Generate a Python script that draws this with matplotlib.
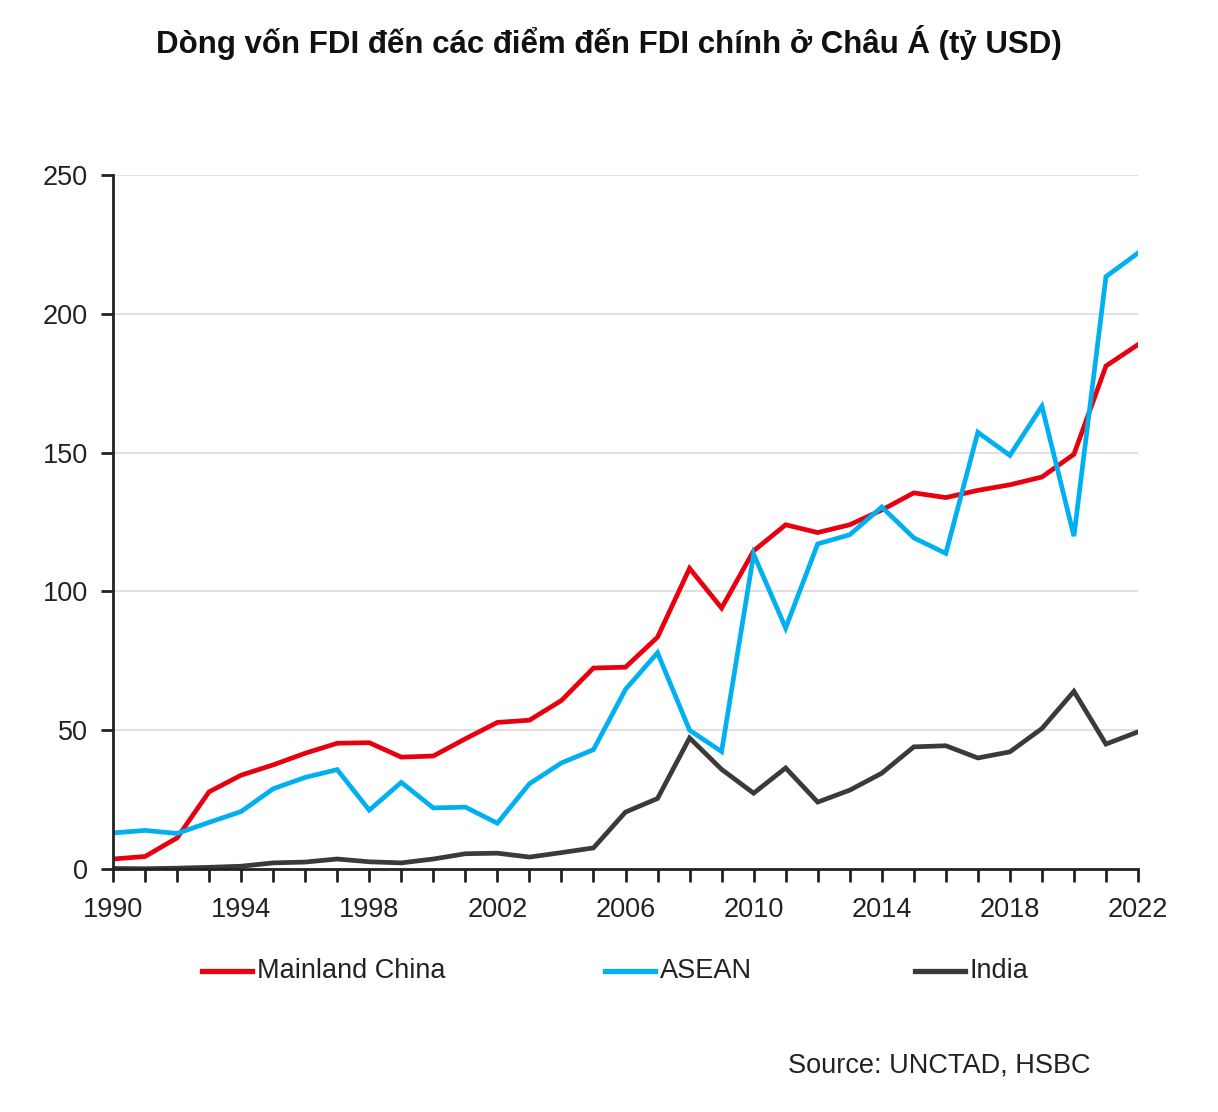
import matplotlib
matplotlib.use("Agg")
import matplotlib.pyplot as plt
from matplotlib.lines import Line2D

years = list(range(1990, 2023))
china = [3.6, 4.5, 11.2, 27.8, 33.8, 37.5, 41.7, 45.3, 45.5, 40.3, 40.7, 46.9, 52.8,
         53.6, 60.7, 72.4, 72.7, 83.5, 108.3, 94.0, 114.6, 124.0, 121.2, 124.0, 129.3,
         135.5, 133.8, 136.4, 138.4, 141.2, 149.4, 181.2, 188.9]
asean = [13.0, 13.9, 12.8, 16.8, 20.7, 28.9, 33.0, 35.8, 21.2, 31.2, 22.0, 22.3, 16.5,
         30.7, 38.2, 43.0, 64.7, 77.9, 50.0, 42.3, 113.4, 86.8, 117.1, 120.4, 130.4,
         119.3, 113.7, 157.3, 149.0, 166.7, 119.9, 213.4, 221.9]
india = [0.2, 0.1, 0.3, 0.6, 1.0, 2.2, 2.5, 3.6, 2.6, 2.2, 3.6, 5.5, 5.7,
         4.3, 5.9, 7.6, 20.5, 25.4, 47.2, 35.9, 27.3, 36.4, 24.1, 28.4, 34.5,
         44.0, 44.4, 40.0, 42.2, 50.6, 64.0, 45.0, 49.4]
series_names = ["Mainland China", "ASEAN", "India"]
colors = ["#E8000F", "#00B0F0", "#3A3A3A"]
yticks = [0, 50, 100, 150, 200, 250]
xtick_labels = [1990, 1994, 1998, 2002, 2006, 2010, 2014, 2018, 2022]

FONT = ["Liberation Sans", "DejaVu Sans"]
plt.rcParams["font.family"] = FONT

W, H = 1218, 1112
fig = plt.figure(figsize=(W / 100, H / 100), dpi=100)
ax = fig.add_axes([113 / W, 1 - 869 / H, (1138 - 113) / W, (869 - 175) / H])

for vals, c in zip([china, asean, india], colors):
    ax.plot(years, vals, color=c, lw=3.4, solid_joinstyle="miter", zorder=3)

ax.set_xlim(1990, 2022)
ax.set_ylim(0, 250)
ax.set_yticks(yticks)
ax.set_yticklabels([str(v) for v in yticks])
ax.set_xticks(years)
ax.set_xticklabels([str(y) if y in xtick_labels else "" for y in years])
for v in yticks[1:]:
    ax.axhline(v, color="#DDDDDD", lw=1.3, zorder=1)

for s in ["top", "right"]:
    ax.spines[s].set_visible(False)
for s in ["left", "bottom"]:
    ax.spines[s].set_linewidth(2.0)
    ax.spines[s].set_color("#222222")
    ax.spines[s].set_zorder(4)

ax.tick_params(axis="both", direction="out", length=9, width=2.0, color="#222222",
               labelsize=19.5, labelcolor="#222222")
ax.tick_params(axis="x", pad=11)
ax.tick_params(axis="y", pad=9)

fig.text(609 / W, 1 - 42 / H, "Dòng vốn FDI đến các điểm đến FDI chính ở Châu Á (tỷ USD)",
         ha="center", va="center", fontsize=22.5, fontweight="bold", color="#111111")

# legend
leg_x = [202, 605, 915]
for name, c, x0 in zip(series_names, colors, leg_x):
    fig.add_artist(Line2D([x0 / W, (x0 + 50) / W], [1 - 971 / H, 1 - 971 / H],
                          color=c, lw=3.8, transform=fig.transFigure))
    fig.text((x0 + 55) / W, 1 - 971 / H, name, ha="left", va="center",
             fontsize=19.5, color="#222222")

fig.text(1090 / W, 1 - 1066 / H, "Source: UNCTAD, HSBC", ha="right", va="center",
         fontsize=19.5, color="#222222")

fig.savefig("out.png", dpi=100, facecolor="white")
